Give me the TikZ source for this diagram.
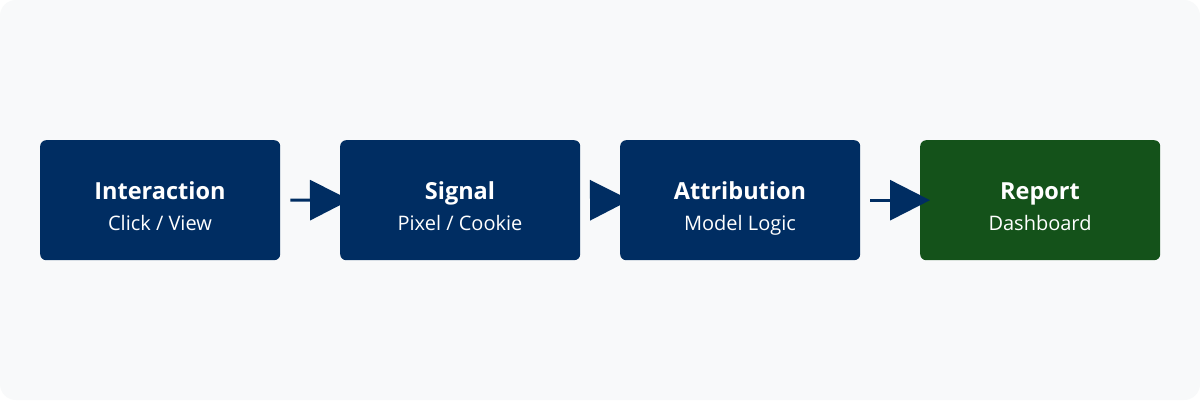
\documentclass[tikz,border=0pt]{standalone}
\usepackage{fontspec}
\setmainfont{Open Sans}
\usetikzlibrary{arrows.meta}
\definecolor{bgpanel}{HTML}{F8F9FA}
\definecolor{navy}{HTML}{002D62}
\definecolor{forest}{HTML}{14521A}
\tikzset{
  stagebox/.style={fill=#1, rounded corners=6pt, minimum width=240pt, minimum height=120pt, inner sep=0pt, anchor=north west},
  titletext/.style={text=white, anchor=base, inner sep=0pt, font=\fontsize{23.5}{28}\selectfont\bfseries},
  subtext/.style={text=white, anchor=base, inner sep=0pt, font=\fontsize{20}{24}\selectfont},
  flow/.style={draw=navy, line width=3pt, -{Triangle[length=40pt,width=40pt]}},
}
\begin{document}
\begin{tikzpicture}[x=1pt,y=-1pt]
\useasboundingbox (0,0) rectangle (1200,400);
\fill[white] (0,0) rectangle (1200,400);
\fill[bgpanel, rounded corners=16pt] (0,0) rectangle (1200,400);
\node[stagebox=navy] (a) at (40,140) {};
\node[titletext] (at) at (160,199) {Interaction};
\node[subtext] (as) at (160,230) {Click / View};
\coordinate (a1) at ([xshift=10pt]a.east);
\coordinate (b1) at (350,200);
\draw[flow] (a1) -- (b1);
\node[stagebox=navy] (b) at (340,140) {};
\node[titletext] (bt) at (460,199) {Signal};
\node[subtext] (bs) at (460,230) {Pixel / Cookie};
\coordinate (b2) at ([xshift=10pt]b.east);
\coordinate (c2) at (630,200);
\draw[flow] (b2) -- (c2);
\node[stagebox=navy] (c) at (620,140) {};
\node[titletext] (ct) at (740,199) {Attribution};
\node[subtext] (cs) at (740,230) {Model Logic};
\node[stagebox=forest] (d) at (920,140) {};
\node[titletext] (dt) at (1040,199) {Report};
\node[subtext] (ds) at (1040,230) {Dashboard};
\coordinate (c3) at ([xshift=10pt]c.east);
\coordinate (d3) at ([xshift=10pt]d.west);
\draw[flow] (c3) -- (d3);
\end{tikzpicture}
\end{document}
